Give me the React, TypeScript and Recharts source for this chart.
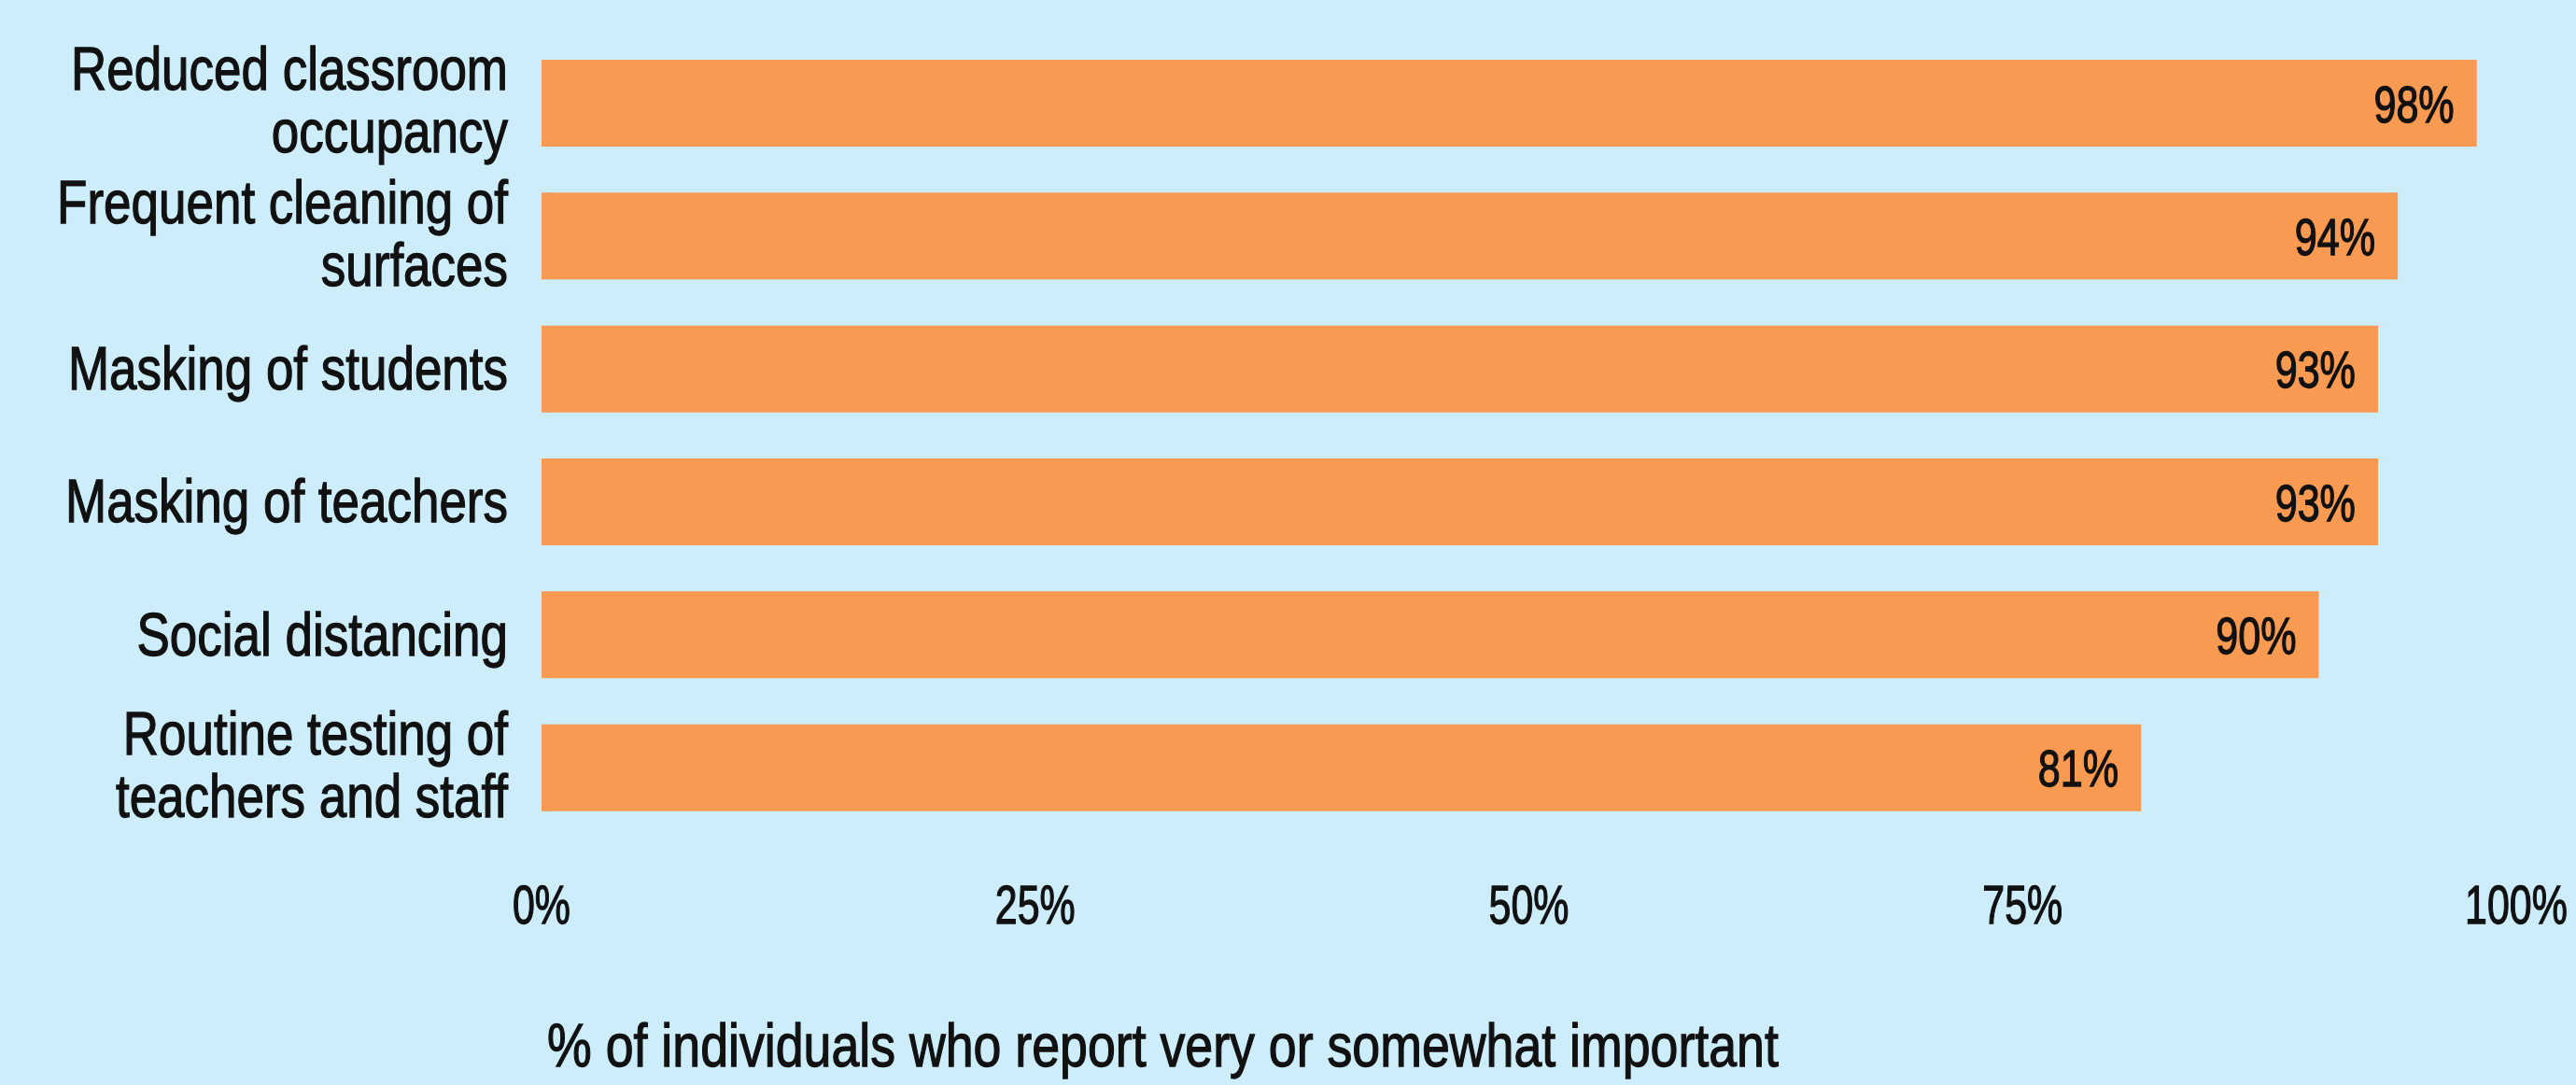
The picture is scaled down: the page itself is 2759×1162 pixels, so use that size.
import React from "react";
import { BarChart, Bar, XAxis, YAxis, LabelList } from "recharts";

const categories = [
  "Reduced classroom occupancy",
  "Frequent cleaning of surfaces",
  "Masking of students",
  "Masking of teachers",
  "Social distancing",
  "Routine testing of teachers and staff",
];
const categoryLines = [
  ["Reduced classroom", "occupancy"],
  ["Frequent cleaning of", "surfaces"],
  ["Masking of students"],
  ["Masking of teachers"],
  ["Social distancing"],
  ["Routine testing of", "teachers and staff"],
];
const values = [98, 94, 93, 93, 90, 81];
const xTicks = [0, 25, 50, 75, 100];
const axisTitle = "% of individuals who report very or somewhat important";

const data = categories.map((name, i) => ({ name, value: values[i] }));

const FONT = "'Liberation Sans', Arial, Helvetica, sans-serif";
const TEXT = "#111111";
const BG = "#CDEDFB";
const BAR = "#F99A52";
const THICK = 1.3;

const CategoryTick = (props: any) => {
  const { x, y, payload } = props;
  const idx = categories.indexOf(payload.value);
  const lines = idx >= 0 ? categoryLines[idx] : [String(payload.value)];
  const baselines = lines.length === 2 ? [-14, 53] : [22];
  return (
    <g transform={`translate(${x - 36},${y})`}>
      {lines.map((ln, i) => (
        <text
          key={i}
          x={0}
          y={baselines[i]}
          textAnchor="end"
          fontFamily={FONT}
          fontSize={65}
          fill={TEXT}
          stroke={TEXT}
          strokeWidth={THICK}
          transform="scale(0.815,1)"
        >
          {ln}
        </text>
      ))}
    </g>
  );
};

const PercentTick = (props: any) => {
  const { x, y, payload } = props;
  return (
    <g transform={`translate(${x},${y + 96})`}>
      <text
        x={0}
        y={0}
        textAnchor="middle"
        fontFamily={FONT}
        fontSize={58}
        fill={TEXT}
        stroke={TEXT}
        strokeWidth={THICK}
        transform="scale(0.74,1)"
      >
        {`${payload.value}%`}
      </text>
    </g>
  );
};

const ValueLabel = (props: any) => {
  const { x, y, width, height, value } = props;
  return (
    <g transform={`translate(${x + width - 24},${y + height / 2 + 20})`}>
      <text
        x={0}
        y={0}
        textAnchor="end"
        fontFamily={FONT}
        fontSize={56}
        fill={TEXT}
        stroke={TEXT}
        strokeWidth={THICK}
        transform="scale(0.77,1)"
      >
        {`${value}%`}
      </text>
    </g>
  );
};

const AxisTitle = (props: any) => {
  const vb = props.viewBox || { x: 0, y: 0 };
  return (
    <g transform={`translate(${vb.x + 6},${vb.y + 249})`}>
      <text
        x={0}
        y={0}
        textAnchor="start"
        fontFamily={FONT}
        fontSize={65}
        fill={TEXT}
        stroke={TEXT}
        strokeWidth={THICK}
        transform="scale(0.826,1)"
      >
        {axisTitle}
      </text>
    </g>
  );
};

export default function App() {
  return (
    <div
      style={{
        position: "absolute",
        left: 0,
        top: 0,
        width: 2759,
        height: 1162,
        background: BG,
        overflow: "hidden",
      }}
    >
      <BarChart
        width={2759}
        height={1162}
        data={data}
        layout="vertical"
        margin={{ top: 39, right: 64, bottom: 0, left: 0 }}
      >
        <XAxis
          type="number"
          domain={[0, 100]}
          ticks={xTicks}
          height={269}
          axisLine={false}
          tickLine={false}
          tickSize={0}
          tickMargin={0}
          tick={<PercentTick />}
          interval={0}
          label={{ content: <AxisTitle /> }}
        />
        <YAxis
          type="category"
          dataKey="name"
          width={580}
          axisLine={false}
          tickLine={false}
          tickSize={0}
          tickMargin={0}
          tick={<CategoryTick />}
          interval={0}
        />
        <Bar dataKey="value" fill={BAR} barSize={93} isAnimationActive={false}>
          <LabelList dataKey="value" content={<ValueLabel />} />
        </Bar>
      </BarChart>
    </div>
  );
}
